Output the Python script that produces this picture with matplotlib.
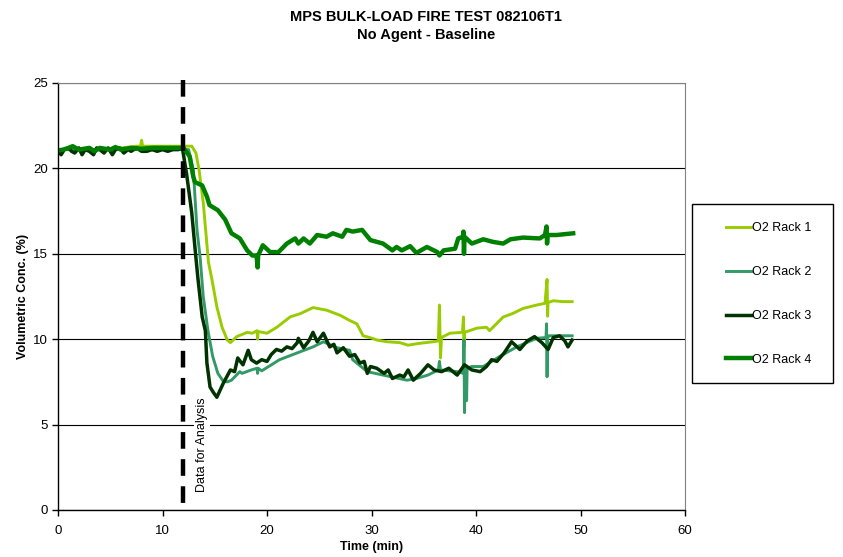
import matplotlib
matplotlib.use("Agg")
import matplotlib.pyplot as plt
from matplotlib.patches import Rectangle

plt.rcParams['font.family'] = ['Liberation Sans', 'DejaVu Sans']
plt.rcParams['lines.scale_dashes'] = False

# O2 readings, time in minutes, concentration in %
rack1_t = [0, 2, 4, 6, 7.5, 7.9, 8.0, 8.1, 9, 10, 11, 12, 12.8, 13.2, 13.5, 13.9, 14.4, 14.7, 15.2,
           15.7, 16.2, 16.5, 17.1, 18.1, 18.6, 19.05, 19.1, 19.15, 20.0, 20.95, 22.2, 23.2, 24.4,
           25.7, 27.0, 27.9, 28.6, 29.2, 30.1, 30.5, 31.5, 32.7, 33.5, 34.5, 35.9, 36.4, 36.5, 36.6,
           36.7, 37.5, 38.7, 38.8, 38.85, 38.9, 40.1, 41.0, 41.3, 42.6, 43.5, 44.5, 45.8, 46.6,
           46.8, 46.85, 46.9, 47.4, 48.3, 49.2]
rack1_v = [21.1, 21.1, 21.1, 21.2, 21.3, 21.3, 21.65, 21.3, 21.3, 21.3, 21.3, 21.3, 21.3, 20.9, 19.9,
           18.0, 14.5, 13.6, 11.9, 10.7, 9.95, 9.8, 10.15, 10.4, 10.35, 10.5, 10.0, 10.45, 10.35,
           10.7, 11.3, 11.5, 11.85, 11.7, 11.4, 11.1, 10.9, 10.2, 10.05, 9.95, 9.85, 9.8, 9.65,
           9.75, 9.85, 9.9, 12.0, 8.9, 10.1, 10.35, 10.4, 11.3, 9.6, 10.4, 10.65, 10.7, 10.5, 11.3,
           11.5, 11.8, 12.0, 12.1, 13.5, 11.35, 12.15, 12.25, 12.2, 12.2]

rack2_t = [0, 3, 6, 9, 11, 12, 12.5, 12.95, 13.3, 13.6, 13.9, 14.35, 14.8, 15.3, 15.8, 16.2, 16.6,
           17.4, 17.6, 18.5, 19.05, 19.1, 19.15, 19.5, 21.2, 22.9, 24.4, 25.4, 26.7, 27.9, 28.2,
           29.6, 31.1, 33.4, 34.3, 35.4, 36.4, 36.5, 36.6, 38.2, 38.8, 38.85, 38.9, 38.95, 39.05,
           39.1, 39.15, 39.6, 40.7, 42.3, 43.9, 45.8, 46.7, 46.75, 46.8, 46.85, 47.0, 48.0, 49.2]
rack2_v = [21.1, 21.1, 21.1, 21.1, 21.1, 21.1, 21.1, 19.9, 16.4, 14.8, 12.5, 10.5, 9.0, 8.0, 7.55,
           7.5, 7.6, 8.1, 8.0, 8.2, 8.3, 8.0, 8.3, 8.15, 8.8, 9.2, 9.55, 9.85, 9.5, 9.35, 8.8, 8.1,
           7.9, 7.6, 7.7, 7.9, 8.2, 8.7, 8.2, 8.1, 8.0, 9.95, 5.7, 8.1, 8.1, 6.4, 8.3, 8.4, 8.4,
           9.0, 9.55, 10.05, 10.1, 10.9, 7.8, 10.1, 10.2, 10.2, 10.2]

rack3_t = [0, 0.3, 0.6, 1.0, 1.3, 1.6, 2.0, 2.3, 2.6, 3.0, 3.4, 3.7, 4.0, 4.4, 4.8, 5.2, 5.5, 5.9,
           6.3, 6.7, 7.0, 7.5, 8.0, 8.5, 9.0, 9.5, 10.0, 10.5, 11.0, 11.5, 11.9, 12.3, 12.8, 13.1,
           13.4, 13.8, 14.1, 14.25, 14.55, 14.85, 15.2, 15.8, 16.5, 16.9, 17.2, 17.7, 18.2, 18.5,
           19.0, 19.5, 20.0, 20.4, 20.9, 21.4, 21.9, 22.4, 22.9, 23.0, 23.5, 24.0, 24.4, 24.8,
           25.4, 26.0, 26.4, 26.7, 27.3, 27.9, 28.4, 28.9, 29.3, 29.6, 29.9, 30.5, 31.2, 31.6,
           32.0, 32.7, 33.1, 33.5, 34.0, 34.7, 35.4, 36.0, 36.7, 37.4, 38.2, 38.9, 39.6, 40.4,
           41.0, 41.5, 42.0, 42.7, 43.4, 44.2, 44.9, 45.6, 46.3, 46.9, 47.4, 48.0, 48.5, 48.8,
           49.2]
rack3_v = [21.0, 20.8, 21.1, 21.2, 21.0, 20.9, 21.2, 20.8, 21.1, 21.0, 20.8, 21.2, 21.1, 20.9, 21.2,
           20.8, 21.1, 21.2, 20.9, 21.1, 21.0, 21.2, 21.0, 21.0, 21.1, 21.0, 21.1, 21.0, 21.1,
           21.1, 21.2, 19.7, 17.4, 15.4, 13.5, 11.3, 10.5, 8.6, 7.2, 6.9, 6.6, 7.4, 8.2, 8.1, 8.9,
           8.5, 9.35, 8.8, 8.6, 8.8, 8.7, 9.1, 9.4, 9.3, 9.55, 9.45, 9.8, 10.05, 9.5, 9.9, 10.4,
           9.85, 10.35, 9.55, 9.7, 9.2, 9.5, 9.0, 9.1, 8.6, 8.7, 8.0, 8.4, 8.3, 8.0, 8.2, 7.7,
           7.9, 7.8, 8.2, 7.6, 8.0, 8.5, 8.2, 8.1, 8.3, 7.9, 8.5, 8.2, 8.1, 8.4, 8.8, 8.7, 9.2,
           9.85, 9.4, 9.9, 10.15, 9.8, 9.4, 10.1, 10.2, 9.9, 9.55, 9.95]

rack4_t = [0, 0.5, 1.0, 1.4, 2.0, 3.0, 3.5, 4.0, 5.0, 5.5, 6.0, 7.0, 8.0, 9.0, 10.0, 11.0, 12.0,
           12.6, 12.95, 13.1, 13.8, 14.25, 14.5, 15.3, 16.0, 16.6, 17.4, 18.1, 18.6, 19.0, 19.1,
           19.15, 19.6, 20.3, 21.1, 21.9, 22.7, 23.0, 23.5, 24.1, 24.8, 25.7, 26.3, 27.2, 27.6,
           28.2, 29.1, 29.9, 31.1, 32.0, 32.4, 32.9, 33.7, 34.3, 35.3, 36.3, 36.5, 36.9, 38.0,
           38.3, 38.75, 38.8, 38.85, 38.9, 39.6, 40.7, 41.6, 42.6, 43.3, 44.5, 46.1, 46.6, 46.75,
           46.8, 46.85, 47.7, 49.3]
rack4_v = [21.05, 21.1, 21.2, 21.3, 21.1, 21.2, 21.0, 21.2, 21.1, 21.25, 21.1, 21.2, 21.15, 21.2,
           21.2, 21.2, 21.2, 20.7, 19.5, 19.2, 19.0, 18.35, 17.85, 17.55, 17.0, 16.2, 15.9, 15.2,
           14.9, 14.9, 14.2, 14.9, 15.5, 15.1, 15.1, 15.6, 15.9, 15.6, 15.9, 15.6, 16.1, 16.0,
           16.2, 16.0, 16.4, 16.3, 16.4, 15.8, 15.6, 15.2, 15.4, 15.2, 15.45, 15.05, 15.4, 15.1,
           14.9, 15.2, 15.3, 15.9, 16.0, 16.3, 15.0, 16.0, 15.6, 15.85, 15.7, 15.6, 15.85, 15.95,
           15.9, 16.1, 16.6, 15.6, 16.1, 16.1, 16.2]

series = [
    ("O2 Rack 1", rack1_t, rack1_v, "#99CC00", 2.1),
    ("O2 Rack 2", rack2_t, rack2_v, "#339966", 2.1),
    ("O2 Rack 3", rack3_t, rack3_v, "#003300", 2.5),
    ("O2 Rack 4", rack4_t, rack4_v, "#008000", 3.2),
]

analysis_start = 12.0

fig = plt.figure(figsize=(8.43, 5.57), dpi=100)
ax = fig.add_axes([58 / 843, 1 - 510 / 557, 627 / 843, 427 / 557])

for name, t, v, col, lw in series:
    ax.plot(t, v, color=col, lw=lw, label=name, solid_joinstyle='round')

# start of the analysis window
ax.plot([analysis_start, analysis_start], [25.2, 0], color='black', lw=3.2,
        linestyle=(0, (12, 7.5)), clip_on=False, zorder=5)
ax.text(13.8, 3.8, "Data for Analysis", rotation=90, ha='center', va='center',
        fontsize=9, bbox=dict(facecolor='white', edgecolor='none', pad=1.5), zorder=6)

ax.set_xlim(0, 60)
ax.set_ylim(0, 25)
ax.set_xticks(range(0, 61, 10))
ax.set_yticks(range(0, 26, 5))
ax.tick_params(direction='out', length=4, width=1, labelsize=9.5, colors='black')
ax.tick_params(axis='x', pad=7)
ax.yaxis.grid(True, color='black', lw=0.8)
ax.set_axisbelow(True)
for side in ['top', 'right']:
    ax.spines[side].set_color('#808080')
for side in ['left', 'bottom']:
    ax.spines[side].set_linewidth(1)

ax.set_xlabel("Time (min)", fontsize=9, fontweight='bold', labelpad=3)
ax.set_ylabel("Volumetric Conc. (%)", fontsize=9, fontweight='bold', labelpad=3)

fig.text(0.505, 1 - 17 / 557, "MPS BULK-LOAD FIRE TEST 082106T1", ha='center', va='center',
         fontsize=10.5, fontweight='bold')
fig.text(0.505, 1 - 35 / 557, "No Agent - Baseline", ha='center', va='center',
         fontsize=10.5, fontweight='bold')

fig.patches.append(Rectangle((692 / 843, 1 - 383 / 557), 141 / 843, 179 / 557,
                             transform=fig.transFigure, fill=False, edgecolor='black', lw=1))
fig.legend(loc='center', bbox_to_anchor=(769 / 843, 1 - 294 / 557), frameon=False,
           fontsize=9, handlelength=2.0, handletextpad=0.1, labelspacing=2.55)

fig.savefig("out.png", dpi=100, facecolor='white')
